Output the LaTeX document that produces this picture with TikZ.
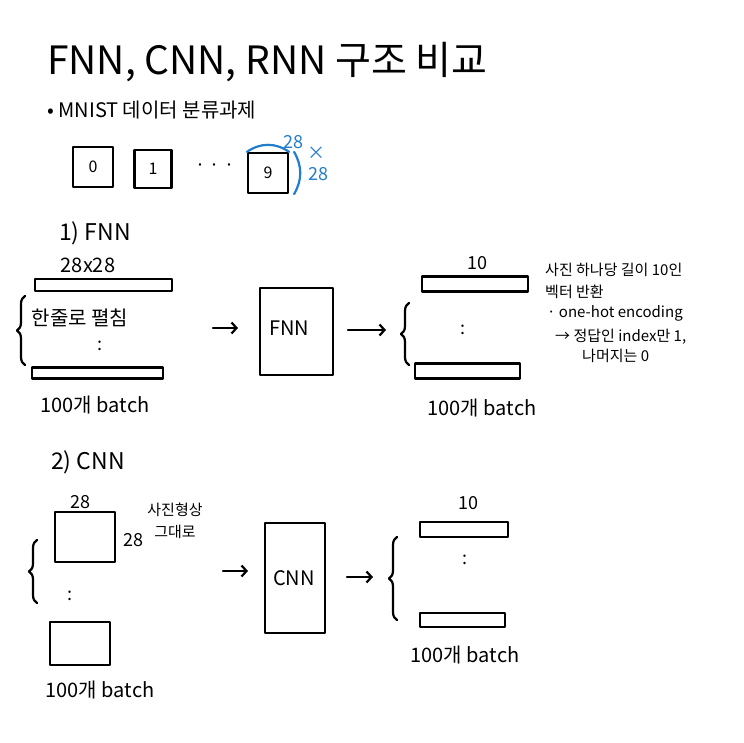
\documentclass[tikz,border=0pt]{standalone}
\usepackage{fontspec}
\setmainfont{Noto Sans CJK KR}
\usetikzlibrary{decorations.pathreplacing,arrows.meta}
\definecolor{penblue}{RGB}{35,125,205}
\tikzset{
  pen/.style={line width=2.2pt, line cap=round, line join=round},
  cell/.style={draw, pen, inner sep=0pt, font=\fontsize{16}{18}\selectfont},
  bar/.style={draw, pen, inner sep=0pt},
  txt/.style={inner sep=0pt, font=\fontsize{18}{20}\selectfont},
  big/.style={inner sep=0pt, font=\fontsize{20}{22}\selectfont},
  head/.style={inner sep=0pt, font=\fontsize{23}{25}\selectfont},
  note/.style={inner sep=0pt, anchor=west, font=\fontsize{15}{17}\selectfont},
  lbrace/.style={pen, decorate, decoration={brace, amplitude=8pt}},
  arr/.style={pen, -{Straight Barb[length=5pt,width=11pt]}},
  model/.style={draw, pen, inner sep=0pt},
}
\begin{document}
\begin{tikzpicture}[x=1pt,y=-1pt]
\useasboundingbox (0,0) rectangle (744,743);
\fill[white] (0,0) rectangle (744,743);

% title
\node[anchor=west, inner sep=0pt, font=\fontsize{39}{42}\selectfont] (title) at (47,62) {FNN, CNN, RNN 구조 비교};
\node[big, anchor=west] (task) at (47,110) {• MNIST 데이터 분류과제};

% digit boxes
\node[cell, minimum width=40, minimum height=40] (d0) at (93,167) {0};
\node[cell, minimum width=37, minimum height=38] (d1) at (153,169) {1};
\node[txt] (ddots) at (215,168) {· · ·};
\node[cell, minimum width=40, minimum height=40] (d9) at (268,173) {9};
\draw[pen, penblue] (d9.north west) to[bend left=35] (d9.north east);
\draw[pen, penblue] ([xshift=5pt]d9.north east) to[bend left=30] ([xshift=5pt]d9.south east);
\node[txt, text=penblue] (s1) at (293,142) {28};
\node[txt, text=penblue] (sx) at (316,153) {×};
\node[txt, text=penblue] (s2) at (318,174) {28};

% 1) FNN
\node[head] (h1) at (95,233) {1) FNN};
\node[big] (dim1) at (88,265) {28x28};
\node[bar, minimum width=137, minimum height=12] (b1) at (103.5,285) {};
\draw[lbrace] (25,365) -- (25,296);
\node[big] (flat) at (80,318) {한줄로 펼침};
\node[txt] (vd1) at (100,346) {:};
\node[bar, minimum width=131, minimum height=11] (b2) at (97.5,373) {};
\node[big] (batch1) at (95,405) {100개 batch};

\coordinate (a1s) at (213,328);
\coordinate (a1e) at (238,328);
\draw[arr] (a1s) -- (a1e);
\node[model, minimum width=73, minimum height=87] (fnn) at (296.5,331.5) {};
\node[big] (fnnlab) at (289,328) {FNN};
\coordinate (a2s) at (348,330);
\coordinate (a2e) at (386,330);
\draw[arr] (a2s) -- (a2e);

\node[txt] (ten1) at (477,263) {10};
\node[bar, minimum width=106, minimum height=15] (o1) at (475,284) {};
\draw[lbrace] (409,365) -- (409,303);
\node[txt] (vd2) at (463,330) {:};
\node[bar, minimum width=105, minimum height=15] (o2) at (467.5,371) {};
\node[big] (batch2) at (482,408) {100개 batch};

\node[note] (n1) at (545,270) {사진 하나당 길이 10인};
\node[note] (n2) at (545,292) {벡터 반환};
\node[note] (n3) at (547,313) {· one-hot encoding};
\node[note] (n4) at (555,337) {→ 정답인 index만 1,};
\node[note] (n5) at (582,356) {나머지는 0};

% 2) CNN
\node[head] (h2) at (88,462) {2) CNN};
\node[txt] (w28) at (80,502) {28};
\node[bar, minimum width=60, minimum height=50] (sq1) at (85,537) {};
\node[txt] (h28) at (133,540) {28};
\node[note, anchor=center] (shape1) at (175,510) {사진형상};
\node[note, anchor=center] (shape2) at (175,532) {그대로};
\draw[lbrace] (37,603) -- (37,540);
\node[txt] (vd3) at (70,596) {:};
\node[bar, minimum width=60, minimum height=43] (sq2) at (80,643.5) {};
\node[big] (batch3) at (100,690) {100개 batch};

\coordinate (a3s) at (223,571);
\coordinate (a3e) at (248,571);
\draw[arr] (a3s) -- (a3e);
\node[model, minimum width=60, minimum height=110] (cnn) at (295,578) {};
\node[big] (cnnlab) at (294,578) {CNN};
\coordinate (a4s) at (347,577);
\coordinate (a4e) at (373,577);
\draw[arr] (a4s) -- (a4e);

\node[txt] (ten2) at (468,503) {10};
\node[bar, minimum width=88, minimum height=15] (o3) at (464,529.5) {};
\draw[lbrace] (397,620) -- (397,537);
\node[txt] (vd4) at (465,560) {:};
\node[bar, minimum width=85, minimum height=14] (o4) at (462.5,620) {};
\node[big] (batch4) at (465,655) {100개 batch};
\end{tikzpicture}
\end{document}
